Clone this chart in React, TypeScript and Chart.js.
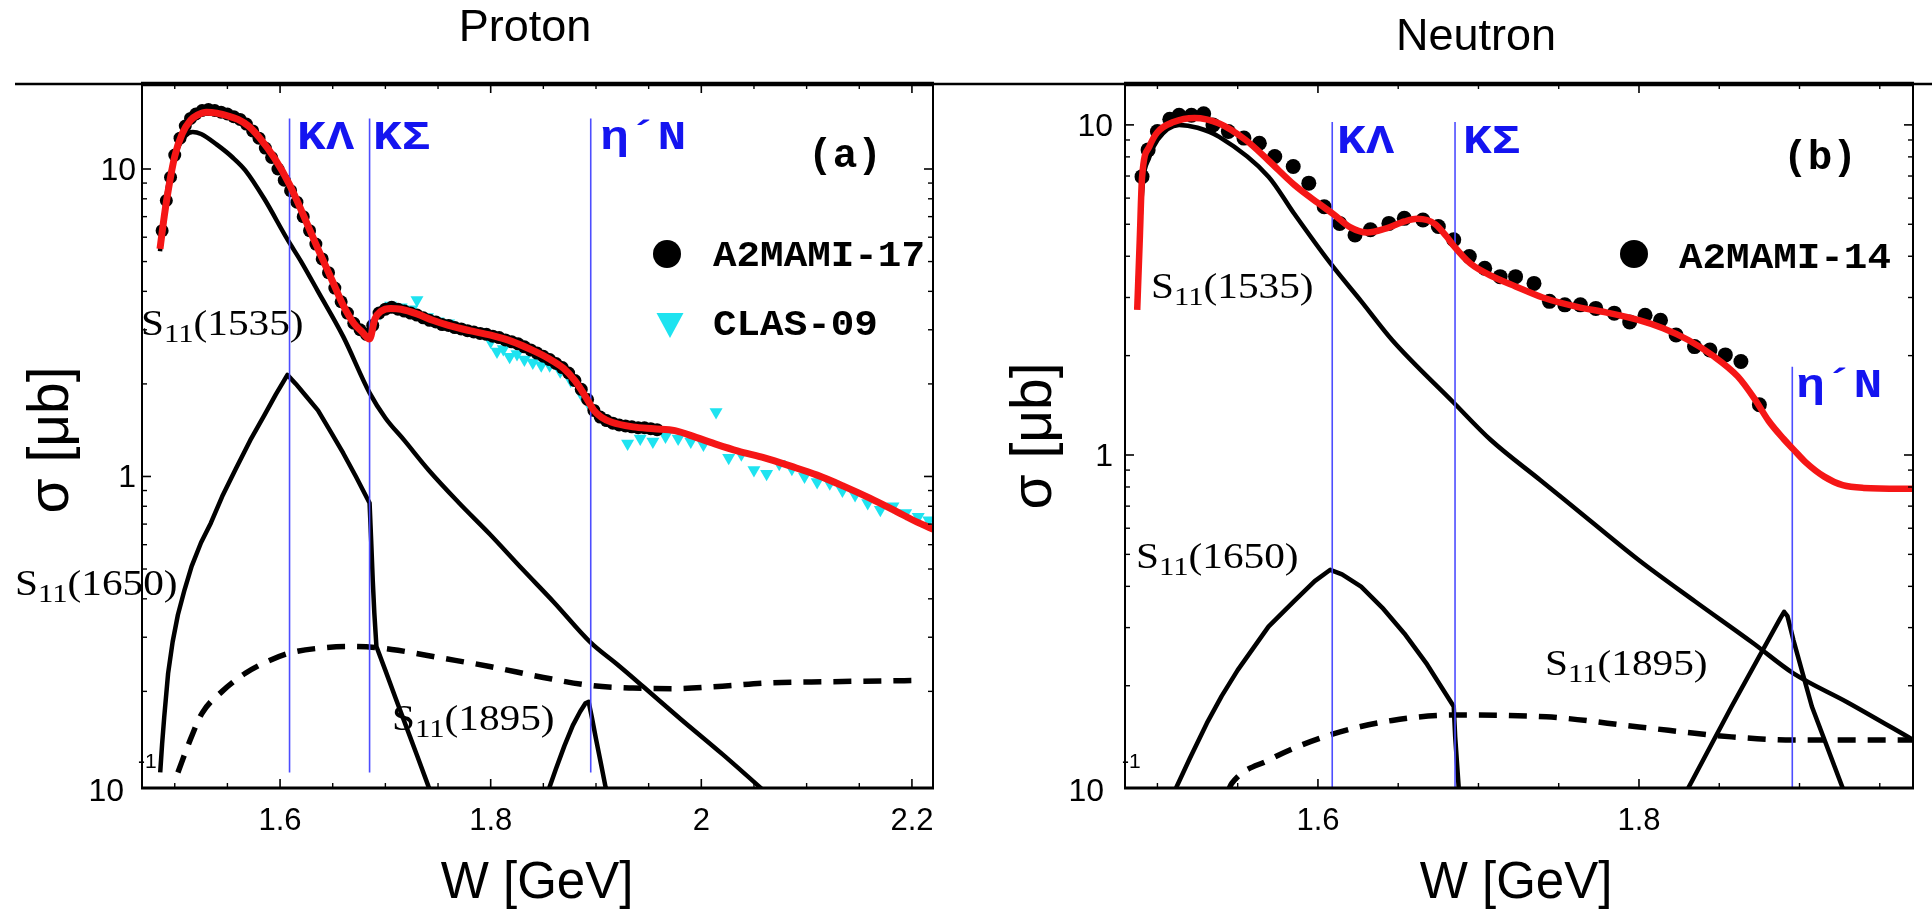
import React, { useEffect, useRef } from "react";
import { Chart, registerables } from "chart.js";

Chart.register(...registerables);

// ================= Panel (a): Proton =================
const protonFitW = [1.486, 1.490, 1.494, 1.500, 1.507, 1.515, 1.522, 1.530, 1.540, 1.550, 1.560, 1.570, 1.580, 1.595, 1.609, 1.622, 1.636, 1.650, 1.660, 1.670, 1.678, 1.685, 1.690, 1.696, 1.705, 1.715, 1.730, 1.745, 1.760, 1.780, 1.800, 1.820, 1.840, 1.855, 1.869, 1.880, 1.890, 1.898, 1.905, 1.915, 1.935, 1.955, 1.975, 1.995, 2.015, 2.035, 2.060, 2.085, 2.110, 2.135, 2.160, 2.185, 2.205, 2.222];
const protonFitS = [5.5, 7.0, 8.6, 11.0, 13.0, 14.4, 15.0, 15.3, 15.2, 14.9, 14.5, 13.8, 12.7, 10.8, 8.9, 7.1, 5.5, 4.3, 3.6, 3.15, 2.95, 2.8, 3.25, 3.45, 3.52, 3.5, 3.38, 3.22, 3.1, 2.98, 2.88, 2.75, 2.57, 2.42, 2.25, 2.05, 1.82, 1.64, 1.56, 1.50, 1.45, 1.43, 1.41, 1.34, 1.27, 1.21, 1.15, 1.08, 1.01, 0.93, 0.85, 0.77, 0.71, 0.67];

const proton1535W = [1.486, 1.490, 1.495, 1.502, 1.510, 1.517, 1.525, 1.540, 1.555, 1.567, 1.585, 1.607, 1.620, 1.636, 1.660, 1.685, 1.700, 1.718, 1.741, 1.770, 1.799, 1.830, 1.860, 1.895, 1.920, 1.945, 1.980, 2.020, 2.055, 2.075];
const proton1535S = [5.4, 7.2, 9.4, 11.5, 12.8, 13.2, 13.0, 12.0, 10.9, 9.9, 8.0, 5.9, 5.0, 4.0, 2.85, 1.87, 1.55, 1.31, 1.05, 0.82, 0.65, 0.50, 0.39, 0.288, 0.245, 0.207, 0.163, 0.125, 0.098, 0.085];

const proton1650W = [1.4862, 1.4880, 1.4900, 1.4937, 1.4980, 1.5030, 1.5093, 1.5160, 1.5250, 1.5342, 1.5450, 1.5580, 1.5716, 1.5850, 1.5960, 1.6070, 1.6150, 1.6250, 1.6360, 1.6480, 1.6600, 1.6720, 1.6850, 1.6865, 1.6880, 1.6895, 1.6915, 1.7000, 1.7100, 1.7200, 1.7300, 1.7410, 1.7460];
const proton1650S = [0.109, 0.135, 0.165, 0.229, 0.29, 0.355, 0.428, 0.51, 0.61, 0.705, 0.86, 1.06, 1.31, 1.58, 1.85, 2.14, 2.0, 1.82, 1.64, 1.40, 1.19, 1.0, 0.82, 0.62, 0.46, 0.36, 0.28, 0.234, 0.189, 0.153, 0.124, 0.098, 0.09];

const proton1895W = [1.854, 1.856, 1.862, 1.870, 1.878, 1.885, 1.890, 1.893, 1.896, 1.900, 1.905, 1.909, 1.911];
const proton1895S = [0.09, 0.098, 0.112, 0.133, 0.155, 0.172, 0.183, 0.185, 0.165, 0.14, 0.115, 0.098, 0.092];

const protonBgW = [1.503, 1.515, 1.526, 1.545, 1.567, 1.590, 1.610, 1.640, 1.665, 1.690, 1.712, 1.750, 1.799, 1.850, 1.895, 1.935, 1.974, 2.020, 2.061, 2.120, 2.207];
const protonBgS = [0.109, 0.14, 0.17, 0.20, 0.229, 0.252, 0.267, 0.277, 0.280, 0.278, 0.272, 0.258, 0.241, 0.222, 0.209, 0.205, 0.204, 0.208, 0.213, 0.215, 0.217];

const protonMamiW = [1.488, 1.492, 1.496, 1.500, 1.505, 1.510, 1.515, 1.520, 1.526, 1.532, 1.538, 1.544, 1.550, 1.556, 1.562, 1.568, 1.574, 1.580, 1.586, 1.592, 1.598, 1.604, 1.610, 1.616, 1.622, 1.628, 1.634, 1.640, 1.646, 1.652, 1.658, 1.664, 1.670, 1.676, 1.682, 1.688, 1.694, 1.700, 1.706, 1.712, 1.718, 1.724, 1.730, 1.736, 1.742, 1.748, 1.754, 1.760, 1.766, 1.772, 1.778, 1.784, 1.790, 1.796, 1.802, 1.808, 1.814, 1.820, 1.826, 1.832, 1.838, 1.844, 1.850, 1.856, 1.862, 1.868, 1.874, 1.880, 1.886, 1.892, 1.898, 1.904, 1.910, 1.916, 1.922, 1.928, 1.934, 1.940, 1.946, 1.952, 1.958];
const protonMamiS = [6.3, 7.9, 9.4, 11.1, 12.6, 13.8, 14.6, 15.1, 15.5, 15.6, 15.5, 15.3, 15.1, 14.8, 14.5, 14.0, 13.3, 12.6, 11.7, 10.9, 10.0, 9.2, 8.5, 7.8, 7.0, 6.3, 5.7, 5.1, 4.6, 4.1, 3.7, 3.4, 3.15, 3.0, 2.9, 3.1, 3.4, 3.5, 3.55, 3.5, 3.45, 3.4, 3.35, 3.28, 3.22, 3.18, 3.12, 3.1, 3.05, 3.02, 2.98, 2.95, 2.92, 2.9, 2.86, 2.83, 2.78, 2.74, 2.7, 2.64, 2.58, 2.52, 2.46, 2.4, 2.33, 2.26, 2.17, 2.05, 1.92, 1.78, 1.64, 1.56, 1.52, 1.49, 1.47, 1.46, 1.45, 1.44, 1.44, 1.43, 1.42];

const protonClasW = [1.695, 1.705, 1.715, 1.725, 1.730, 1.740, 1.750, 1.760, 1.770, 1.780, 1.790, 1.800, 1.806, 1.812, 1.818, 1.825, 1.832, 1.840, 1.848, 1.856, 1.866, 1.876, 1.886, 1.896, 1.906, 1.930, 1.942, 1.954, 1.966, 1.978, 1.990, 2.002, 2.014, 2.026, 2.038, 2.050, 2.062, 2.074, 2.086, 2.098, 2.110, 2.122, 2.134, 2.146, 2.158, 2.170, 2.182, 2.194, 2.206, 2.216];
const protonClasS = [3.4, 3.6, 3.55, 3.5, 3.75, 3.3, 3.2, 3.15, 3.05, 3.0, 2.95, 2.75, 2.55, 2.6, 2.45, 2.5, 2.4, 2.35, 2.3, 2.3, 2.2, 2.05, 1.85, 1.65, 1.55, 1.28, 1.33, 1.3, 1.35, 1.33, 1.30, 1.27, 1.62, 1.15, 1.18, 1.05, 1.02, 1.1, 1.06, 1.0, 0.96, 0.95, 0.9, 0.87, 0.82, 0.78, 0.8, 0.76, 0.74, 0.72];

const protonThresholdW = [1.609, 1.685, 1.895];
const protonThresholdTop = [14.6, 14.6, 14.6];
const protonThresholdBottom = 0.109;

const protonXMajor = [1.6, 1.8, 2.0, 2.2];
const protonXLabels = ["1.6", "1.8", "2", "2.2"];
const protonXMinor = [1.5, 1.55, 1.65, 1.7, 1.75, 1.85, 1.9, 1.95, 2.05, 2.1, 2.15];

// ================= Panel (b): Neutron =================
const neutronFitW = [1.4874, 1.4890, 1.4904, 1.4950, 1.5000, 1.5100, 1.5231, 1.5385, 1.5550, 1.5692, 1.5850, 1.6000, 1.6100, 1.6200, 1.6308, 1.6420, 1.6540, 1.6616, 1.6680, 1.6731, 1.6800, 1.6846, 1.6950, 1.7100, 1.7231, 1.7400, 1.7615, 1.7800, 1.8000, 1.8150, 1.8307, 1.8460, 1.8615, 1.8720, 1.8807, 1.8900, 1.8962, 1.9039, 1.9154, 1.9269, 1.9400, 1.9720];
const neutronFitS = [2.75, 4.5, 6.9, 8.6, 9.5, 10.2, 10.5, 10.1, 9.0, 7.8, 6.6, 5.8, 5.35, 4.9, 4.72, 4.85, 5.1, 5.2, 5.15, 5.0, 4.6, 4.3, 3.8, 3.45, 3.24, 3.0, 2.81, 2.7, 2.56, 2.42, 2.23, 2.0, 1.73, 1.48, 1.27, 1.12, 1.04, 0.95, 0.86, 0.81, 0.795, 0.79];

const neutron1535W = [1.4874, 1.4904, 1.4950, 1.5000, 1.5135, 1.5250, 1.5385, 1.5692, 1.5850, 1.6077, 1.6270, 1.6462, 1.6846, 1.7077, 1.7384, 1.7700, 1.8000, 1.8350, 1.8712, 1.8962, 1.9300, 1.9720];
const neutron1535S = [2.95, 6.2, 8.0, 9.0, 10.0, 9.8, 9.2, 6.97, 5.4, 3.81, 2.92, 2.23, 1.44, 1.11, 0.84, 0.63, 0.48, 0.36, 0.269, 0.218, 0.178, 0.136];

const neutron1650W = [1.5105, 1.5116, 1.5200, 1.5308, 1.5400, 1.5500, 1.5692, 1.5850, 1.5980, 1.6077, 1.6150, 1.6269, 1.6400, 1.6538, 1.6680, 1.6846, 1.6855, 1.6877, 1.6885];
const neutron1650S = [0.09, 0.098, 0.12, 0.154, 0.186, 0.223, 0.302, 0.36, 0.415, 0.449, 0.435, 0.399, 0.345, 0.288, 0.232, 0.173, 0.14, 0.098, 0.09];

const neutron1895W = [1.8290, 1.8307, 1.8577, 1.8880, 1.8904, 1.8925, 1.8962, 1.9077, 1.9269, 1.9290];
const neutron1895S = [0.09, 0.098, 0.173, 0.32, 0.335, 0.325, 0.275, 0.173, 0.098, 0.09];

const neutronBgW = [1.5440, 1.5462, 1.5692, 1.6077, 1.6462, 1.6846, 1.7423, 1.8000, 1.8577, 1.8962, 1.9720];
const neutronBgS = [0.096, 0.101, 0.119, 0.142, 0.157, 0.163, 0.161, 0.150, 0.140, 0.137, 0.137];

const neutronMamiW = [1.4904, 1.4942, 1.5000, 1.5077, 1.5135, 1.5212, 1.5288, 1.5346, 1.5442, 1.5539, 1.5635, 1.5731, 1.5846, 1.5943, 1.6039, 1.6135, 1.6231, 1.6327, 1.6442, 1.6538, 1.6654, 1.6750, 1.6846, 1.6943, 1.7039, 1.7135, 1.7231, 1.7346, 1.7442, 1.7538, 1.7635, 1.7731, 1.7846, 1.7942, 1.8038, 1.8134, 1.8231, 1.8346, 1.8442, 1.8538, 1.8635, 1.8750];
const neutronMamiS = [6.97, 8.4, 9.55, 10.4, 10.7, 10.7, 10.8, 10.0, 9.55, 9.12, 8.8, 8.02, 7.48, 6.66, 5.65, 5.03, 4.64, 4.81, 5.03, 5.21, 5.15, 4.92, 4.49, 3.99, 3.68, 3.47, 3.47, 3.31, 2.92, 2.85, 2.85, 2.78, 2.69, 2.53, 2.65, 2.56, 2.31, 2.13, 2.08, 2.01, 1.92, 1.42];

const neutronThresholdW = [1.6089, 1.6854, 1.8955];
const neutronThresholdTop = [10.2, 10.2, 1.85];
const neutronThresholdBottom = 0.098;

const neutronXMajor = [1.6, 1.8];
const neutronXLabels = ["1.6", "1.8"];
const neutronXMinor = [1.5, 1.55, 1.65, 1.7, 1.75, 1.85, 1.9, 1.95];

// shared y ticks
const yMajor = [1, 10];
const yMajorLabels = ["1", "10"];
const yMinor = [0.2, 0.3, 0.4, 0.5, 0.6, 0.7, 0.8, 0.9, 2, 3, 4, 5, 6, 7, 8, 9];

// ================= styling =================
const RED = "#f51616";
const LINE_BLUE = "#4d4dff";
const TAG_BLUE = "#1414f0";
const CYAN = "#1ee3f0";
const SANS = '"Liberation Sans", Arial, sans-serif';
const SERIF = '"Liberation Serif", "Times New Roman", serif';
const MONO = '"Liberation Mono", "Courier New", monospace';

const pts = (w: number[], s: number[]) => w.map((x, i) => ({ x, y: s[i] }));

function lineDs(data: any[], color: string, width: number, order: number, dash: number[] = [], smooth = true) {
  return {
    type: "line",
    data,
    borderColor: color,
    backgroundColor: color,
    borderWidth: width,
    pointRadius: 0,
    pointHoverRadius: 0,
    fill: false,
    cubicInterpolationMode: smooth ? "monotone" : "default",
    tension: 0,
    borderDash: dash,
    borderCapStyle: "butt",
    borderJoinStyle: "round",
    order,
  };
}

function seg(ctx: CanvasRenderingContext2D, x1: number, y1: number, x2: number, y2: number, w: number) {
  ctx.beginPath();
  ctx.lineWidth = w;
  ctx.moveTo(x1, y1);
  ctx.lineTo(x2, y2);
  ctx.stroke();
}

function txt(
  ctx: CanvasRenderingContext2D,
  s: string,
  x: number,
  y: number,
  font: string,
  align: CanvasTextAlign = "left",
  baseline: CanvasTextBaseline = "alphabetic",
  color = "#000",
  sx = 1,
  rot = 0
) {
  ctx.save();
  ctx.translate(x, y);
  if (rot) ctx.rotate(rot);
  ctx.scale(sx, 1);
  ctx.font = font;
  ctx.fillStyle = color;
  ctx.textAlign = align;
  ctx.textBaseline = baseline;
  ctx.fillText(s, 0, 0);
  ctx.restore();
}

function sLabel(ctx: CanvasRenderingContext2D, x: number, y: number, num: string) {
  ctx.save();
  ctx.translate(x, y);
  ctx.scale(1.18, 1);
  ctx.fillStyle = "#000";
  ctx.textAlign = "left";
  ctx.textBaseline = "alphabetic";
  ctx.font = `35px ${SERIF}`;
  ctx.fillText("S", 0, 0);
  let w = ctx.measureText("S").width;
  ctx.font = `26px ${SERIF}`;
  ctx.fillText("11", w, 7);
  w += ctx.measureText("11").width;
  ctx.font = `35px ${SERIF}`;
  ctx.fillText(`(${num})`, w, 0);
  ctx.restore();
}

function makeDecor(d: any) {
  return {
    id: "decor",
    afterDraw(chart: any) {
      const ctx: CanvasRenderingContext2D = chart.ctx;
      const xs = chart.scales.x;
      const ys = chart.scales.y;
      const ca = chart.chartArea;
      const ox = d.offsetX;
      ctx.save();
      ctx.translate(-ox, 0);
      const L = ca.left + ox, R = ca.right + ox, T = ca.top, B = ca.bottom;
      const X = (v: number) => xs.getPixelForValue(v) + ox;
      const Y = (v: number) => ys.getPixelForValue(v);
      ctx.strokeStyle = "#000";
      ctx.fillStyle = "#000";
      ctx.lineCap = "butt";

      // page rule
      seg(ctx, d.ruleFrom, 84, d.ruleTo, 84, 2.5);
      // frame
      seg(ctx, L - 1, T, R + 1, T, 4.5);
      seg(ctx, L - 1, B, R + 1, B, 3);
      seg(ctx, L, T, L, B, 2);
      seg(ctx, R, T, R, B, 2);

      // x ticks (inward, top and bottom)
      d.xMajor.forEach((v: number) => {
        const x = X(v);
        seg(ctx, x, B, x, B - 9, 1.6);
        seg(ctx, x, T, x, T + 9, 1.6);
      });
      d.xMinor.forEach((v: number) => {
        const x = X(v);
        seg(ctx, x, B, x, B - 5, 1.4);
        seg(ctx, x, T, x, T + 5, 1.4);
      });
      // y ticks
      yMajor.forEach((v) => {
        const y = Y(v);
        seg(ctx, L, y, L + 9, y, 1.6);
        seg(ctx, R, y, R - 9, y, 1.6);
      });
      yMinor.forEach((v) => {
        const y = Y(v);
        if (y < T || y > B) return;
        seg(ctx, L, y, L + 5, y, 1.4);
        seg(ctx, R, y, R - 5, y, 1.4);
      });

      // x tick labels
      d.xMajor.forEach((v: number, i: number) => {
        txt(ctx, d.xLabels[i], X(v), 830, `31px ${SANS}`, "center");
      });
      // y tick labels
      yMajor.forEach((v, i) => {
        txt(ctx, yMajorLabels[i], d.yLabelRight, Y(v) + 11, `32px ${SANS}`, "right");
      });
      // bottom label 10^-1
      txt(ctx, "10", d.bottomLabelRight, 801, `32px ${SANS}`, "right");
      txt(ctx, "-1", d.supX, 768, `21px ${SANS}`, "left");

      // axis titles
      txt(ctx, "σ [μb]", d.yTitleX, d.yTitleY, `57px ${SANS}`, "center", "middle", "#000", 1, -Math.PI / 2);
      txt(ctx, "W [GeV]", d.xTitleX, 884, `51px ${SANS}`, "center", "middle");
      // panel title
      txt(ctx, d.title, d.titleX, d.titleY, `45px ${SANS}`, "center");

      // threshold tags
      d.tags.forEach((t: any) => {
        txt(ctx, t.t, t.x, t.y, `bold 40px ${MONO}`, "left", "middle", TAG_BLUE, 1.2);
      });
      // panel letter
      txt(ctx, d.letter.t, d.letter.x, d.letter.y, `bold 41px ${MONO}`, "center", "middle");

      // resonance labels
      d.sLabels.forEach((s: any) => sLabel(ctx, s.x, s.y, s.n));

      // legend
      d.legend.forEach((g: any) => {
        if (g.kind === "circle") {
          ctx.beginPath();
          ctx.fillStyle = "#000";
          ctx.arc(g.x, g.y, 14, 0, Math.PI * 2);
          ctx.fill();
        } else {
          ctx.beginPath();
          ctx.fillStyle = CYAN;
          ctx.moveTo(g.x - 13.5, g.y - 12);
          ctx.lineTo(g.x + 13.5, g.y - 12);
          ctx.lineTo(g.x, g.y + 13);
          ctx.closePath();
          ctx.fill();
        }
        txt(ctx, g.label, g.tx, g.ty, `bold 36px ${MONO}`, "left", "middle", "#000", 1.09);
      });
      ctx.restore();
    },
  };
}

function buildConfig(p: any) {
  const datasets: any[] = [];
  p.thW.forEach((w: number, i: number) => {
    datasets.push(lineDs([{ x: w, y: p.thBottom }, { x: w, y: p.thTop[i] }], LINE_BLUE, 1.6, 2, [], false));
  });
  datasets.push(lineDs(pts(p.bgW, p.bgS), "#000", 5.5, 6, [18, 12]));
  datasets.push(lineDs(pts(p.res1535[0], p.res1535[1]), "#000", 4.5, 5));
  datasets.push(lineDs(pts(p.res1650[0], p.res1650[1]), "#000", 4.5, 5, [], false));
  datasets.push(lineDs(pts(p.res1895[0], p.res1895[1]), "#000", 4.5, 5, [], false));
  if (p.clasW) {
    datasets.push({
      type: "line",
      data: pts(p.clasW, p.clasS),
      showLine: false,
      pointStyle: "triangle",
      rotation: 180,
      pointRadius: 7.5,
      pointBackgroundColor: CYAN,
      pointBorderWidth: 0,
      borderColor: CYAN,
      order: 4,
    });
  }
  datasets.push({
    type: "line",
    data: pts(p.mamiW, p.mamiS),
    showLine: false,
    pointStyle: "circle",
    pointRadius: p.dotR,
    pointBackgroundColor: "#000",
    pointBorderWidth: 0,
    borderColor: "#000",
    order: 3,
  });
  datasets.push(lineDs(pts(p.fitW, p.fitS), RED, p.redW, 1));

  return {
    type: "line",
    data: { datasets },
    options: {
      responsive: false,
      devicePixelRatio: 1,
      animation: false,
      events: [],
      layout: { padding: p.padding },
      plugins: { legend: { display: false }, tooltip: { enabled: false }, title: { display: false } },
      scales: {
        x: { type: "linear", min: p.xMin, max: p.xMax, display: false },
        y: { type: "logarithmic", min: p.yMin, max: p.yMax, display: false },
      },
    },
    plugins: [makeDecor(p.decor)],
  };
}

const panelA = {
  xMin: 1.4689, xMax: 2.22, yMin: 0.097, yMax: 18.9,
  padding: { left: 142, top: 84, right: 1000 - 933, bottom: 913 - 788 },
  fitW: protonFitW, fitS: protonFitS, redW: 7,
  res1535: [proton1535W, proton1535S], res1650: [proton1650W, proton1650S], res1895: [proton1895W, proton1895S],
  bgW: protonBgW, bgS: protonBgS,
  mamiW: protonMamiW, mamiS: protonMamiS, dotR: 6.5,
  clasW: protonClasW, clasS: protonClasS,
  thW: protonThresholdW, thTop: protonThresholdTop, thBottom: protonThresholdBottom,
  decor: {
    offsetX: 0, ruleFrom: 15, ruleTo: 1000,
    xMajor: protonXMajor, xLabels: protonXLabels, xMinor: protonXMinor,
    yLabelRight: 136, bottomLabelRight: 124, supX: 138,
    yTitleX: 52, yTitleY: 440, xTitleX: 537,
    title: "Proton", titleX: 525, titleY: 41,
    tags: [{ t: "KΛ", x: 297, y: 139 }, { t: "KΣ", x: 373, y: 139 }, { t: "η´N", x: 600, y: 139 }],
    letter: { t: "(a)", x: 845, y: 157 },
    sLabels: [{ n: "1535", x: 141, y: 335 }, { n: "1650", x: 15, y: 595 }, { n: "1895", x: 392, y: 730 }],
    legend: [
      { kind: "circle", x: 667, y: 254, label: "A2MAMI-17", tx: 713, ty: 257 },
      { kind: "tri", x: 670, y: 325, label: "CLAS-09", tx: 713, ty: 326 },
    ],
  },
};

const panelB = {
  xMin: 1.4798, xMax: 1.9707, yMin: 0.098, yMax: 13.3,
  padding: { left: 125, top: 84, right: 1932 - 1913, bottom: 913 - 788 },
  fitW: neutronFitW, fitS: neutronFitS, redW: 6.5,
  res1535: [neutron1535W, neutron1535S], res1650: [neutron1650W, neutron1650S], res1895: [neutron1895W, neutron1895S],
  bgW: neutronBgW, bgS: neutronBgS,
  mamiW: neutronMamiW, mamiS: neutronMamiS, dotR: 7.5,
  clasW: null, clasS: null,
  thW: neutronThresholdW, thTop: neutronThresholdTop, thBottom: neutronThresholdBottom,
  decor: {
    offsetX: 1000, ruleFrom: 1000, ruleTo: 1932,
    xMajor: neutronXMajor, xLabels: neutronXLabels, xMinor: neutronXMinor,
    yLabelRight: 1113, bottomLabelRight: 1104, supX: 1122,
    yTitleX: 1035, yTitleY: 436, xTitleX: 1516,
    title: "Neutron", titleX: 1476, titleY: 50,
    tags: [{ t: "KΛ", x: 1337, y: 143 }, { t: "KΣ", x: 1463, y: 143 }, { t: "η´N", x: 1796, y: 387 }],
    letter: { t: "(b)", x: 1820, y: 159 },
    sLabels: [{ n: "1535", x: 1151, y: 298 }, { n: "1650", x: 1136, y: 568 }, { n: "1895", x: 1545, y: 675 }],
    legend: [{ kind: "circle", x: 1634, y: 254, label: "A2MAMI-14", tx: 1679, ty: 259 }],
  },
};

export default function App() {
  const refA = useRef<HTMLCanvasElement>(null);
  const refB = useRef<HTMLCanvasElement>(null);
  useEffect(() => {
    const ca = new Chart(refA.current as HTMLCanvasElement, buildConfig(panelA) as any);
    const cb = new Chart(refB.current as HTMLCanvasElement, buildConfig(panelB) as any);
    return () => {
      ca.destroy();
      cb.destroy();
    };
  }, []);
  return (
    <div style={{ position: "fixed", left: 0, top: 0, width: 1932, height: 913, background: "#fff" }}>
      <canvas ref={refA} width={1000} height={913} style={{ position: "absolute", left: 0, top: 0, width: 1000, height: 913 }} />
      <canvas ref={refB} width={932} height={913} style={{ position: "absolute", left: 1000, top: 0, width: 932, height: 913 }} />
    </div>
  );
}
